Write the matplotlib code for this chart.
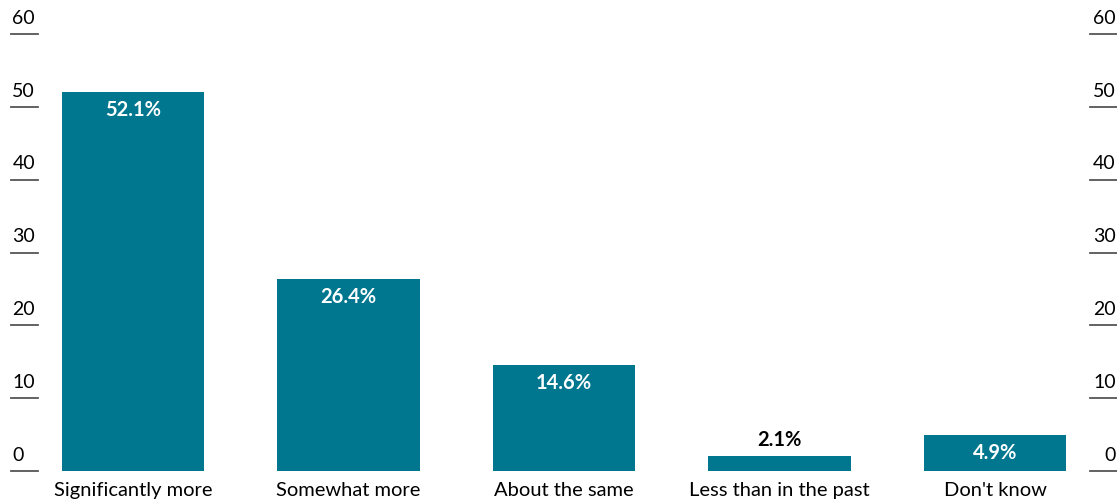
import matplotlib.pyplot as plt

categories = ["Significantly more", "Somewhat more", "About the same",
              "Less than in the past", "Don't know"]
values = [52.1, 26.4, 14.6, 2.1, 4.9]
yticks = [0, 10, 20, 30, 40, 50, 60]

plt.rcParams['font.family'] = ['Lato', 'DejaVu Sans']

fig = plt.figure(figsize=(11.17, 5.01), dpi=100)
ax = fig.add_axes([0, 0.06, 1, 0.872])

teal = '#00778f'
x = list(range(len(categories)))
bars = ax.bar(x, values, width=0.66, color=teal)

ax.set_xlim(-0.617, 4.566)
ax.set_ylim(0, 60)
ax.axis('off')

# short tick rules with the number sitting on top, on both sides
trans = ax.get_yaxis_transform()
for t in yticks:
    ax.plot([0.010, 0.034], [t, t], color='#555555', lw=1.3, transform=trans, clip_on=False)
    ax.plot([0.976, 1.0], [t, t], color='#555555', lw=1.3, transform=trans, clip_on=False)
    ax.text(0.011, t + 1.0, str(t), transform=trans, ha='left', va='bottom', fontsize=14)
    ax.text(0.999, t + 1.0, str(t), transform=trans, ha='right', va='bottom', fontsize=14)

for xi, v, cat in zip(x, values, categories):
    if v > 4:
        ax.text(xi, v - 1.1, f"{v}%", ha='center', va='top', color='white',
                fontsize=14.5, fontweight='bold')
    else:
        ax.text(xi, v + 0.8, f"{v}%", ha='center', va='bottom', color='black',
                fontsize=14.5, fontweight='bold')
    ax.text(xi, -1.5, cat, ha='center', va='top', fontsize=14.5, clip_on=False)

fig.savefig('out.png', dpi=100)
